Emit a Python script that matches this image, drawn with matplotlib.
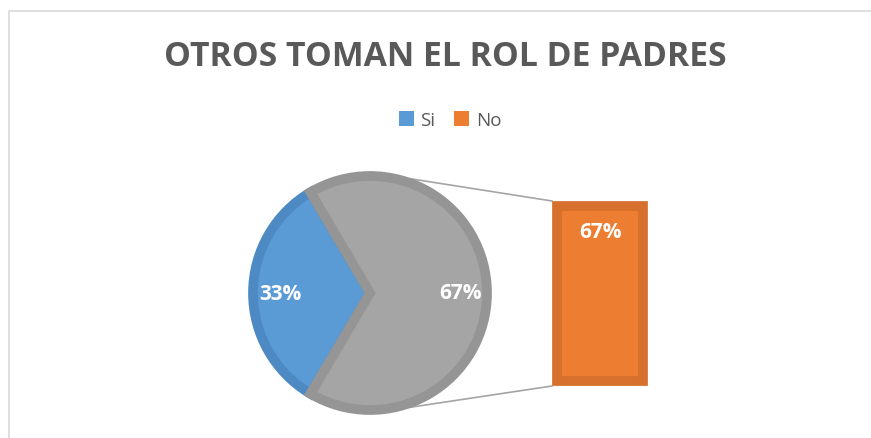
import numpy as np
import matplotlib
matplotlib.use("Agg")
import matplotlib.pyplot as plt
from matplotlib.patches import Patch

# data
labels = ["Si", "No"]
values = [33, 67]
bar_values = [67]          # the "No" slice split out into the bar
title = "OTROS TOMAN EL ROL DE PADRES"

colors = ["#5B9BD5", "#A5A5A5"]
edge_colors = ["#4D8AC4", "#959595"]
bar_color = "#ED7D31"
bar_edge = "#D6702C"
legend_colors = ["#5B9BD5", "#ED7D31"]
text_grey = "#595959"

W, H = 871, 439
fig = plt.figure(figsize=(W / 100, H / 100), dpi=100)
ax = fig.add_axes([0, 0, 1, 1])

# pie
cx, cy, r = 370, H - 294, 117
sweep = values[0] / sum(values) * 360
wedges, _, autotexts = ax.pie(
    values, colors=colors, startangle=180 - sweep / 2, counterclock=True,
    center=(cx, cy), radius=r, autopct="%.0f%%", pctdistance=0.77,
    wedgeprops=dict(linewidth=7, joinstyle="miter"),
    textprops=dict(color="white", fontsize=15, fontweight="bold",
                   family="Open Sans"),
    frame=True)
for w, ec in zip(wedges, edge_colors):
    w.set_edgecolor(ec)
ax.set_xlim(0, W)
ax.set_ylim(0, H)
ax.set_aspect("equal")
ax.axis("off")

# chart area border (runs off right/bottom)
ax.plot([8.5, 8.5, W + 5], [-5, H - 11.5, H - 11.5], color="#D9D9D9",
        linewidth=1.2, clip_on=False)

# bar for the split-out slice
bx, bw = 600, 86
btop, bbot = H - 207, H - 382
scale = (btop - bbot) / sum(bar_values)
bars = ax.bar([bx], [bar_values[0] * scale], bottom=bbot, width=bw,
              color=bar_color, edgecolor=bar_edge, linewidth=7)
ax.text(bx, H - 232, f"{bar_values[0]}%", ha="center", va="center",
        color="white", fontsize=15, fontweight="bold", family="Open Sans")

# connector lines
ang = np.deg2rad(71)
ro = r + 4
left = bx - bw / 2 - 5
ax.plot([cx + ro * np.cos(ang), left], [cy + ro * np.sin(ang), btop + 5],
        color="#A5A5A5", linewidth=1.2, zorder=0)
ax.plot([cx + ro * np.cos(ang), left], [cy - ro * np.sin(ang), bbot - 5],
        color="#A5A5A5", linewidth=1.2, zorder=0)

# title
fig.text(445 / W, 1 - 57 / H, title, ha="center", va="center",
         fontsize=24.3, fontweight="bold", color=text_grey, family="Open Sans")

# legend
handles = [Patch(facecolor=c, edgecolor="none") for c in legend_colors]
leg = fig.legend(handles, labels, loc="center", bbox_to_anchor=(450 / W, 1 - 121 / H),
                 ncol=2, frameon=False, handlelength=0.8,
                 handleheight=0.8, handletextpad=0.35, columnspacing=1.0,
                 prop=dict(family="Open Sans", size=13.5))
for t in leg.get_texts():
    t.set_color(text_grey)

fig.savefig("out.png", dpi=100)
